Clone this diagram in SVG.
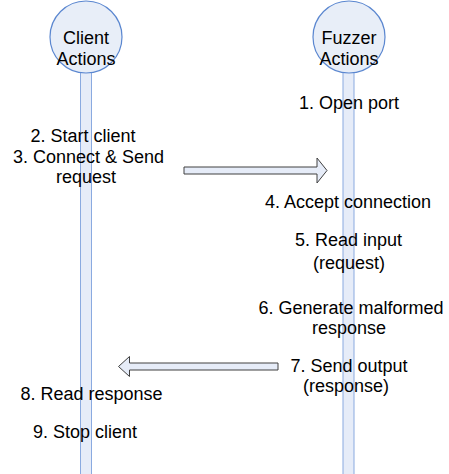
<svg xmlns="http://www.w3.org/2000/svg" width="449" height="474" viewBox="0 0 449 474">
<style>
.bar{fill:#e6ecf8;stroke:#8aaae0;stroke-width:1}
.node{fill:#e8eef8;stroke:#5b87d0;stroke-width:1.2}
.arrow{fill:#e6ecf8;stroke:#404040;stroke-width:1}
text{font-family:"Liberation Sans",Arial,sans-serif;font-size:18px;fill:#000;text-anchor:middle}
</style>
<rect width="449" height="474" fill="#fff"/>
<g id="client">
<rect class="bar" x="80.5" y="70" width="11" height="410"/>
<circle class="node" cx="86" cy="37" r="36"/>
<text x="86" y="43.5">Client</text>
<text x="86" y="65">Actions</text>
</g>
<g id="fuzzer">
<rect class="bar" x="343" y="70" width="11" height="410"/>
<circle class="node" cx="349" cy="37" r="36"/>
<text x="349" y="43.5">Fuzzer</text>
<text x="349" y="65">Actions</text>
</g>
<g id="connectors">
<polygon class="arrow" points="184,167 317,167 317,158 327,170.5 317,183 317,174 184,174"/>
<polygon class="arrow" points="278,363 129.5,363 129.5,356.5 118.5,366.5 129.5,376.5 129.5,370 278,370"/>
</g>
<g id="steps">
<text x="349" y="109">1. Open port</text>
<text x="83" y="141.5">2. Start client</text>
<text x="88.5" y="162.5">3. Connect &amp; Send</text>
<text x="86" y="183">request</text>
<text x="348" y="208">4. Accept connection</text>
<text x="348.5" y="246">5. Read input</text>
<text x="349" y="269">(request)</text>
<text x="351" y="314">6. Generate malformed</text>
<text x="349" y="334">response</text>
<text x="349" y="372">7. Send output</text>
<text x="346" y="392">(response)</text>
<text x="91.5" y="400">8. Read response</text>
<text x="85" y="438">9. Stop client</text>
</g>
</svg>
